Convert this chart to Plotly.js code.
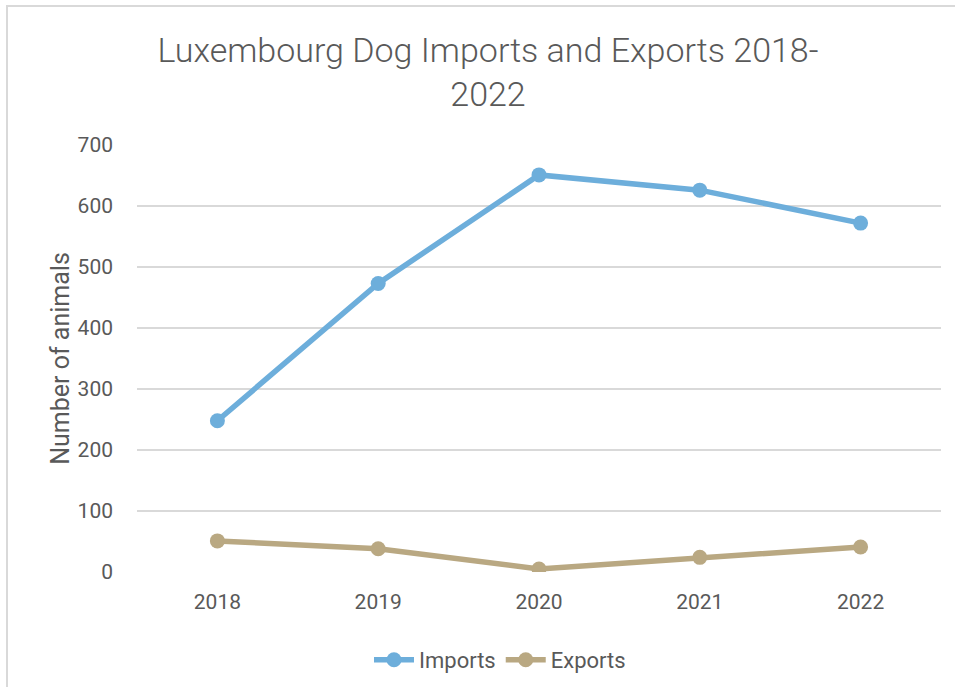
<!DOCTYPE html>
<html>
<head>
<meta charset="utf-8">
<script src="https://cdn.plot.ly/plotly-3.0.1.min.js"></script>
<style>
html,body{margin:0;padding:0;background:#fff;}
#wrap{position:relative;width:955px;height:687px;overflow:hidden;}
#chart{position:absolute;left:0;top:0;width:955px;height:687px;}
#frame{position:absolute;left:6px;top:5px;width:960px;height:700px;border:2px solid #d9d9d9;box-sizing:border-box;pointer-events:none;}
</style>
</head>
<body>
<div id="wrap"><div id="chart"></div><div id="frame"></div></div>
<script>
var years = ['2018', '2019', '2020', '2021', '2022'];
var imports = [248, 473, 651, 626, 572];
var exports_ = [51, 38, 5, 24, 41];
var yTicks = [0, 100, 200, 300, 400, 500, 600, 700];

var textColor = '#595959';
var font = 'Roboto, "DejaVu Sans", sans-serif';

var data = [
  {x: years, y: imports, name: 'Imports', type: 'scatter', mode: 'lines+markers',
   line: {color: '#6daedb', width: 5.5}, marker: {color: '#6daedb', size: 15}},
  {x: years, y: exports_, name: 'Exports', type: 'scatter', mode: 'lines+markers',
   line: {color: '#b9a882', width: 5.5}, marker: {color: '#b9a882', size: 15}}
];

var layout = {
  width: 955, height: 687,
  paper_bgcolor: '#fff', plot_bgcolor: '#fff',
  margin: {l: 137, r: 14, t: 145, b: 115},
  font: {family: font, color: textColor},
  title: {text: 'Luxembourg Dog Imports and Exports 2018-<br>2022', x: 488/955, xref: 'container', xanchor: 'center',
          y: 1 - 62/687, yref: 'container', yanchor: 'top',
          font: {family: font, size: 34, color: textColor, weight: 300}},
  xaxis: {type: 'category', range: [-0.5, 4.5], showgrid: false, zeroline: false,
          showline: false, ticks: '', tickfont: {size: 21, color: textColor}, ticklabelstandoff: 15},
  yaxis: {range: [0, 700], tickvals: yTicks, ticktext: yTicks.map(String), showgrid: true,
          gridcolor: '#d9d9d9', gridwidth: 1.5, zeroline: false, showline: false, ticks: '',
          tickfont: {size: 21, color: textColor}, ticklabelstandoff: 23,
          title: {text: 'Number of animals', standoff: 0, font: {size: 25, color: textColor}}},
  showlegend: true,
  legend: {orientation: 'h', x: 500/955, xref: 'container', xanchor: 'center', y: 1 - 660/687, yref: 'container', yanchor: 'middle',
           font: {size: 22, color: textColor}, itemwidth: 40, tracegroupgap: 0, itemclick: false},
  shapes: []
};

Plotly.newPlot('chart', data, layout, {displayModeBar: false, staticPlot: true});
</script>
</body>
</html>
